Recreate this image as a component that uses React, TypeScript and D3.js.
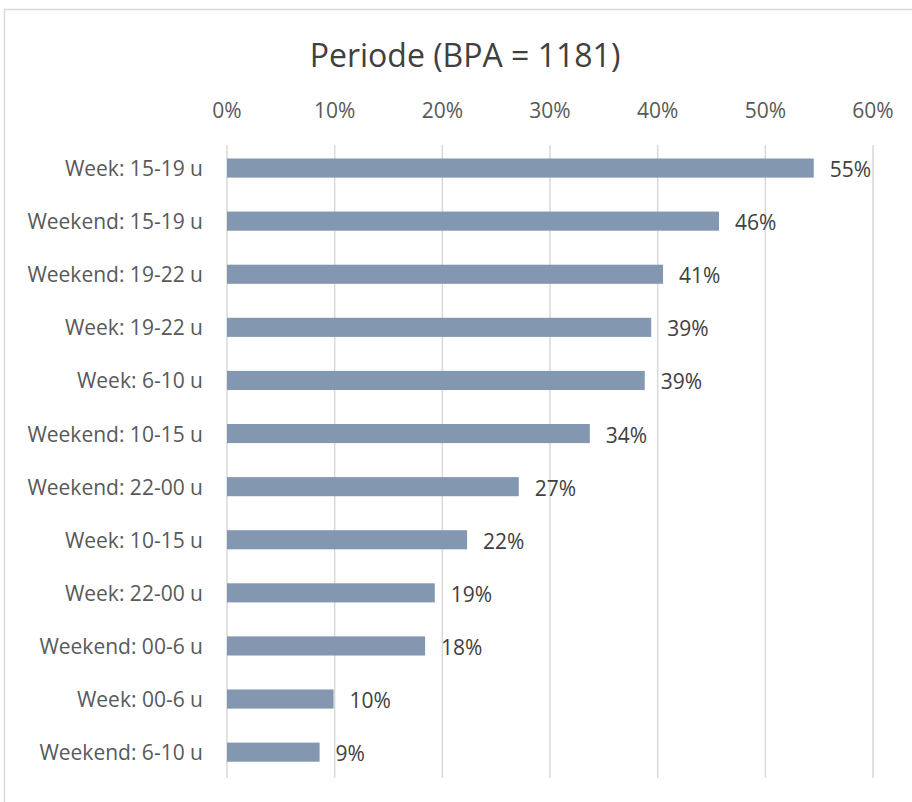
import * as d3 from "d3";
import React from "react";

const categories = [
  "Week: 15-19 u",
  "Weekend: 15-19 u",
  "Weekend: 19-22 u",
  "Week: 19-22 u",
  "Week: 6-10 u",
  "Weekend: 10-15 u",
  "Weekend: 22-00 u",
  "Week: 10-15 u",
  "Week: 22-00 u",
  "Weekend: 00-6 u",
  "Week: 00-6 u",
  "Weekend: 6-10 u",
];
const values = [0.545, 0.457, 0.405, 0.394, 0.388, 0.337, 0.271, 0.223, 0.193, 0.184, 0.099, 0.086];
const xTicks = [0, 0.1, 0.2, 0.3, 0.4, 0.5, 0.6];
const title = "Periode (BPA = 1181)";

const W = 912;
const H = 802;
const font = "'Open Sans', sans-serif";

const App: React.FC = () => {
  const svgRef = React.useRef<SVGSVGElement | null>(null);

  React.useEffect(() => {
    document.body.style.margin = "0";
    const svg = d3.select(svgRef.current);
    svg.selectAll("*").remove();

    const x = d3.scaleLinear().domain([0, 0.6]).range([227, 873]);
    const y = d3
      .scaleBand<string>()
      .domain(categories)
      .range([141.5, 778.7])
      .paddingInner(0.64)
      .paddingOuter(0.32);

    svg.append("rect").attr("width", W).attr("height", H).attr("fill", "#fff");

    // chart border
    svg
      .append("rect")
      .attr("x", 4.5)
      .attr("y", 9.5)
      .attr("width", W + 20)
      .attr("height", H + 20)
      .attr("fill", "none")
      .attr("stroke", "#d9d9d9")
      .attr("stroke-width", 1.5);

    svg
      .append("text")
      .attr("x", 465)
      .attr("y", 54)
      .attr("text-anchor", "middle")
      .attr("dominant-baseline", "central")
      .attr("font-family", font)
      .attr("font-size", 32)
      .attr("fill", "#404040")
      .text(title);

    // gridlines
    svg
      .append("g")
      .selectAll("line")
      .data(xTicks)
      .join("line")
      .attr("x1", (d) => x(d))
      .attr("x2", (d) => x(d))
      .attr("y1", 145)
      .attr("y2", 778)
      .attr("stroke", "#d9d9d9")
      .attr("stroke-width", 1.5);

    // top axis labels
    svg
      .append("g")
      .selectAll("text")
      .data(xTicks)
      .join("text")
      .attr("x", (d) => x(d))
      .attr("y", 110)
      .attr("text-anchor", "middle")
      .attr("dominant-baseline", "central")
      .attr("font-family", font)
      .attr("font-size", 21)
      .attr("fill", "#595959")
      .text((d) => d3.format(".0%")(d));

    // bars
    svg
      .append("g")
      .selectAll("rect")
      .data(categories)
      .join("rect")
      .attr("x", x(0))
      .attr("y", (d) => y(d)!)
      .attr("width", (d, i) => x(values[i]) - x(0))
      .attr("height", y.bandwidth())
      .attr("fill", "#8497b0");

    // category labels
    svg
      .append("g")
      .selectAll("text")
      .data(categories)
      .join("text")
      .attr("x", 203)
      .attr("y", (d) => y(d)! + y.bandwidth() / 2)
      .attr("text-anchor", "end")
      .attr("dominant-baseline", "central")
      .attr("font-family", font)
      .attr("font-size", 21)
      .attr("fill", "#595959")
      .text((d) => d);

    // value labels
    svg
      .append("g")
      .selectAll("text")
      .data(categories)
      .join("text")
      .attr("x", (d, i) => x(values[i]) + 16)
      .attr("y", (d) => y(d)! + y.bandwidth() / 2 + 1)
      .attr("dominant-baseline", "central")
      .attr("font-family", font)
      .attr("font-size", 21)
      .attr("fill", "#404040")
      .text((d, i) => d3.format(".0%")(values[i]));
  }, []);

  return <svg ref={svgRef} width={W} height={H} style={{ display: "block" }} />;
};

export default App;
